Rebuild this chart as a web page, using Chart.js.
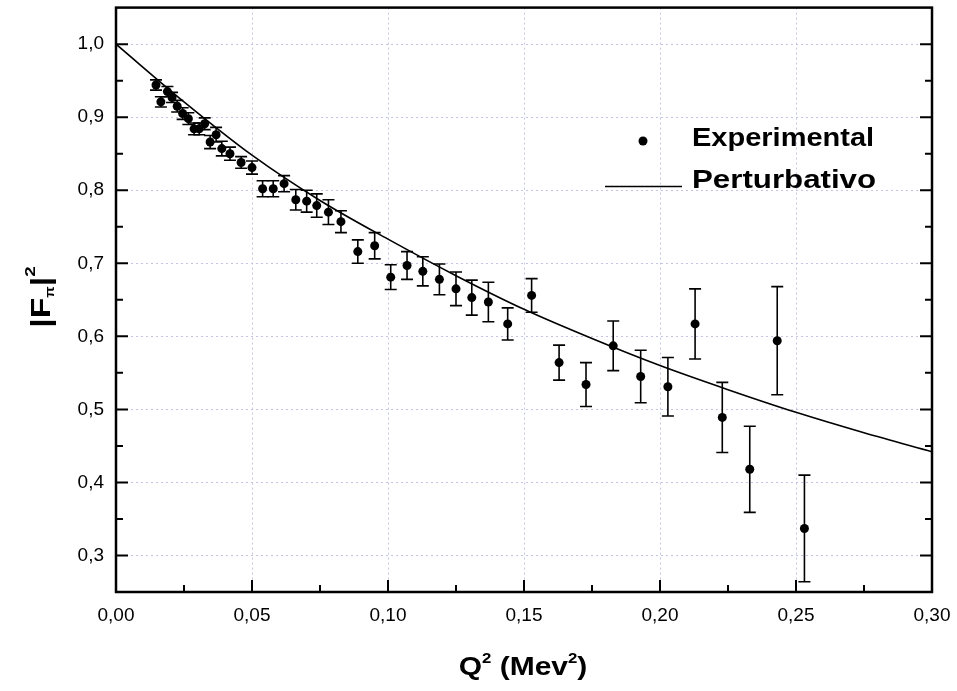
<!DOCTYPE html>
<html>
<head>
<meta charset="utf-8">
<script src="https://cdn.jsdelivr.net/npm/chart.js@4.4.0/dist/chart.umd.min.js"></script>
<style>
  html, body { margin: 0; padding: 0; background: #fff; }
  #wrap { width: 957px; height: 691px; }
</style>
</head>
<body>
<div id="wrap"><canvas id="formFactorChart" width="957" height="691"></canvas></div>
<script>
// Experimental points (Q^2, |F_pi|^2, error)
const expQ = [0.0147, 0.0165, 0.0189, 0.0206, 0.0225, 0.0245, 0.0266, 0.0287, 0.0306, 0.0326,
  0.0346, 0.0368, 0.0389, 0.0419, 0.0460, 0.0500, 0.0539, 0.0578, 0.0618, 0.0661,
  0.0701, 0.0738, 0.0781, 0.0827, 0.0889, 0.0951, 0.1010, 0.1070, 0.1128, 0.1189,
  0.1250, 0.1308, 0.1369, 0.1440, 0.1528, 0.1629, 0.1728, 0.1828, 0.1929, 0.2029,
  0.2129, 0.2229, 0.2330, 0.2431, 0.2531];
const expF = [0.944, 0.921, 0.935, 0.927, 0.915, 0.905, 0.898, 0.884, 0.884, 0.891,
  0.866, 0.876, 0.857, 0.850, 0.838, 0.831, 0.802, 0.802, 0.809, 0.787,
  0.785, 0.779, 0.770, 0.757, 0.716, 0.724, 0.681, 0.697, 0.689, 0.678,
  0.665, 0.653, 0.647, 0.617, 0.656, 0.564, 0.534, 0.587, 0.545, 0.531,
  0.617, 0.489, 0.418, 0.594, 0.337];
const expErr = [0.007, 0.007, 0.007, 0.007, 0.008, 0.008, 0.008, 0.008, 0.008, 0.008,
  0.009, 0.010, 0.010, 0.009, 0.008, 0.009, 0.011, 0.011, 0.011, 0.014,
  0.015, 0.016, 0.017, 0.015, 0.016, 0.018, 0.017, 0.019, 0.020, 0.021,
  0.023, 0.024, 0.027, 0.022, 0.023, 0.024, 0.030, 0.034, 0.036, 0.040,
  0.048, 0.048, 0.059, 0.074, 0.073];

// Perturbative curve
const curveQ = [0, 0.025, 0.05, 0.075, 0.10, 0.125, 0.15, 0.175, 0.20, 0.225, 0.25, 0.275, 0.30];
const curveF = [1.000, 0.921, 0.848, 0.786, 0.733, 0.683, 0.637, 0.597, 0.560, 0.527, 0.496, 0.468, 0.442];

// Axis ticks
const xTicks = [0, 0.05, 0.10, 0.15, 0.20, 0.25, 0.30];
const xMinor = [0.025, 0.075, 0.125, 0.175, 0.225, 0.275];
const yTicks = [0.3, 0.4, 0.5, 0.6, 0.7, 0.8, 0.9, 1.0];
const yMinor = [0.35, 0.45, 0.55, 0.65, 0.75, 0.85, 0.95];

const FONT = '"Liberation Sans", Arial, Helvetica, sans-serif';

// error bars as one broken line, caps drawn with the 'line' point style
const errData = [];
expQ.forEach((q, i) => {
  errData.push({ x: q, y: expF[i] - expErr[i] });
  errData.push({ x: q, y: expF[i] + expErr[i] });
  errData.push({ x: q, y: null });
});

const comma = (v, d) => v.toFixed(d).replace('.', ',');

// frame, inward ticks, titles and legend
const decorations = {
  id: 'decorations',
  afterDraw(chart) {
    const ctx = chart.ctx;
    const a = chart.chartArea;
    const xs = chart.scales.x, ys = chart.scales.y;
    ctx.save();
    ctx.strokeStyle = '#000';
    ctx.lineWidth = 2.5;
    ctx.strokeRect(a.left, a.top, a.right - a.left, a.bottom - a.top);

    ctx.lineWidth = 2;
    ctx.beginPath();
    const yTick = (v, len) => {
      const p = ys.getPixelForValue(v);
      ctx.moveTo(a.left, p); ctx.lineTo(a.left + len, p);
      ctx.moveTo(a.right, p); ctx.lineTo(a.right - len, p);
    };
    const xTick = (v, len) => {
      const p = xs.getPixelForValue(v);
      ctx.moveTo(p, a.bottom); ctx.lineTo(p, a.bottom - len);
    };
    yTicks.forEach(v => yTick(v, 12));
    yMinor.forEach(v => yTick(v, 7));
    xTicks.forEach(v => xTick(v, 12));
    xMinor.forEach(v => xTick(v, 7));
    ctx.stroke();

    ctx.fillStyle = '#000';
    ctx.textBaseline = 'alphabetic';
    ctx.textAlign = 'left';

    // pieces of [text, size, dy], stretched sideways by sx like the original
    const drawRich = (parts, cx, baseY, sx) => {
      let w = 0;
      parts.forEach(p => { ctx.font = 'bold ' + p[1] + 'px ' + FONT; w += ctx.measureText(p[0]).width; });
      ctx.save();
      ctx.translate(cx, baseY);
      ctx.scale(sx, 1);
      let x = -w / 2;
      parts.forEach(p => {
        ctx.font = 'bold ' + p[1] + 'px ' + FONT;
        ctx.fillText(p[0], x, p[2]);
        x += ctx.measureText(p[0]).width;
      });
      ctx.restore();
    };

    // x title
    drawRich([['Q', 25, 0], ['2', 14, -12], [' (Mev', 25, 0], ['2', 14, -12], [')', 25, 0]],
      523, 675, 1.2);

    // y title
    ctx.save();
    ctx.translate(50, 297);
    ctx.rotate(-Math.PI / 2);
    drawRich([['|F', 27, 0], ['\u03c0', 12, 4], ['|', 27, 0], ['2', 15, -15]], 0, 0, 1.25);
    ctx.restore();

    // legend
    ctx.beginPath();
    ctx.arc(643, 141, 4.5, 0, Math.PI * 2);
    ctx.fill();
    ctx.lineWidth = 1.5;
    ctx.beginPath();
    ctx.moveTo(605, 186.5); ctx.lineTo(682, 186.5);
    ctx.stroke();
    ctx.font = 'bold 25px ' + FONT;
    ctx.save();
    ctx.translate(692, 146);
    ctx.scale(1.16, 1);
    ctx.fillText('Experimental', 0, 0);
    ctx.restore();
    ctx.save();
    ctx.translate(692, 188);
    ctx.scale(1.25, 1);
    ctx.fillText('Perturbativo', 0, 0);
    ctx.restore();
    ctx.restore();
  }
};

const ctx = document.getElementById('formFactorChart').getContext('2d');
new Chart(ctx, {
  type: 'scatter',
  data: {
    datasets: [
      {
        label: 'Perturbativo',
        type: 'line',
        data: curveQ.map((q, i) => ({ x: q, y: curveF[i] })),
        borderColor: '#000',
        borderWidth: 1.6,
        pointRadius: 0,
        cubicInterpolationMode: 'monotone',
        fill: false
      },
      {
        label: 'errors',
        type: 'line',
        data: errData,
        borderColor: '#000',
        borderWidth: 1.6,
        pointStyle: 'line',
        pointRadius: 6,
        pointBorderWidth: 1.6,
        pointBorderColor: '#000',
        spanGaps: false,
        fill: false
      },
      {
        label: 'Experimental',
        data: expQ.map((q, i) => ({ x: q, y: expF[i] })),
        backgroundColor: '#000',
        borderColor: '#000',
        pointRadius: 4.5,
        pointBorderWidth: 0
      }
    ]
  },
  options: {
    responsive: false,
    animation: false,
    layout: { padding: { left: 0, top: 5, right: 25, bottom: 0 } },
    plugins: {
      legend: { display: false },
      tooltip: { enabled: false }
    },
    scales: {
      x: {
        type: 'linear',
        min: 0,
        max: 0.30,
        afterBuildTicks: s => { s.ticks = xTicks.map(v => ({ value: v })); },
        afterFit: s => { s.height = 99; s.paddingLeft = 0; s.paddingRight = 0; },
        grid: { color: '#c4c4e4', lineWidth: 1, drawTicks: false },
        border: { display: false, dash: [2, 3] },
        ticks: {
          padding: 12,
          color: '#000',
          maxRotation: 0,
          font: { family: FONT, size: 19 },
          callback: v => comma(v, 2)
        }
      },
      y: {
        type: 'linear',
        min: 0.25,
        max: 1.05,
        afterBuildTicks: s => { s.ticks = yTicks.map(v => ({ value: v })); },
        afterFit: s => { s.width = 116; s.paddingTop = 0; s.paddingBottom = 0; },
        grid: { color: '#c4c4e4', lineWidth: 1, drawTicks: false },
        border: { display: false, dash: [2, 3] },
        ticks: {
          padding: 12,
          color: '#000',
          font: { family: FONT, size: 19 },
          callback: v => comma(v, 1)
        }
      }
    }
  },
  plugins: [decorations]
});
</script>
</body>
</html>
